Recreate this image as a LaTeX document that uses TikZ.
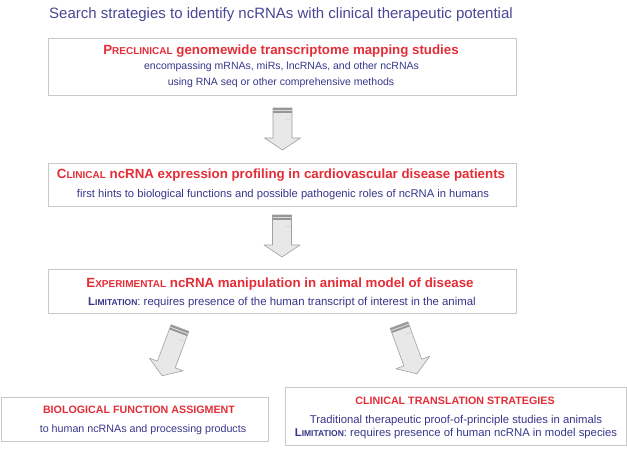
\documentclass[tikz,border=0pt]{standalone}
\usepackage{fontspec}
\setmainfont{Liberation Sans}
\definecolor{tred}{RGB}{228,45,55}
\definecolor{tblue}{RGB}{55,55,140}
\definecolor{ttitle}{RGB}{72,72,150}
\definecolor{boxgray}{RGB}{200,200,200}
\definecolor{arrfill}{RGB}{232,232,232}
\definecolor{arredge}{RGB}{160,160,160}
\definecolor{arrband}{RGB}{150,150,150}
\newcommand\mysc[3]{#2{\fontsize{#1pt}{#1pt}\selectfont#3}}
\tikzset{
  box/.style={draw=boxgray, line width=0.8pt, fill=white, inner sep=0pt},
  redtitle/.style={text=tred, font=\bfseries\fontsize{13.3}{15}\selectfont, inner sep=0pt},
  redsmall/.style={text=tred, font=\bfseries\fontsize{10.7}{12}\selectfont, inner sep=0pt},
  bluetext/.style={text=tblue, font=\fontsize{#1}{12}\selectfont, inner sep=0pt},
  bluetext/.default=11,
  pics/blockarrow/.style={code={
    \path[fill=arrfill, draw=arredge, line width=0.6pt, line join=round]
      (0,-9.5) -- (#1-12,-9.5) -- (#1-12,-18) -- (#1,0) -- (#1-12,18) -- (#1-12,9.5) -- (0,9.5) -- cycle;
    \fill[arrband] (0.3,-9.2) rectangle (5,9.2);
    \draw[gray!30, line width=1pt] (2.6,-9.2) -- (2.6,9.2);
    \draw[white!70!gray, line width=1pt] (11,-9.2) -- (11,-3);
  }}
}
\begin{document}
\begin{tikzpicture}[x=1pt, y=-1pt]
\useasboundingbox[fill=white] (0,0) rectangle (627,451);

\node[text=ttitle, font=\fontsize{15}{17}\selectfont, inner sep=0pt] (title) at (281,15)
  {Search strategies to identify ncRNAs with clinical therapeutic potential};

% box 1
\node[box, minimum width=468, minimum height=57] (b1) at (282,66.5) {};
\node[redtitle] (b1t) at (281,51) {\mysc{10}{P}{RECLINICAL} genomewide transcriptome mapping studies};
\node[bluetext=10.5] (b1a) at (281.5,67) {encompassing mRNAs, miRs, lncRNAs, and other ncRNAs};
\node[bluetext=10.5] (b1b) at (281,83) {using RNA seq or other comprehensive methods};

% box 2
\node[box, minimum width=468, minimum height=43] (b2) at (282,184.5) {};
\node[redtitle] (b2t) at (281,175) {\mysc{10}{C}{LINICAL} ncRNA expression profiling in cardiovascular disease patients};
\node[bluetext=11.2] (b2a) at (283,195) {first hints to biological functions and possible pathogenic roles of ncRNA in humans};

% box 3
\node[box, minimum width=468, minimum height=44] (b3) at (282,291) {};
\node[redtitle] (b3t) at (280,284) {\mysc{10}{E}{XPERIMENTAL} ncRNA manipulation in animal model of disease};
\node[bluetext=11.4] (b3a) at (282,303) {\textbf{\mysc{8.5}{L}{IMITATION}}: requires presence of the human transcript of interest in the animal};

% bottom boxes
\node[box, minimum width=267, minimum height=44] (bl) at (134.5,419) {};
\node[redsmall] (blt) at (139,410) {BIOLOGICAL FUNCTION ASSIGMENT};
\node[bluetext=10.7] (bla) at (143,430) {to human ncRNAs and processing products};

\node[box, minimum width=341, minimum height=58] (br) at (456,416) {};
\node[redsmall] (brt) at (455,401) {CLINICAL TRANSLATION STRATEGIES};
\node[bluetext=11.3] (bra) at (456,421) {Traditional therapeutic proof-of-principle studies in animals};
\node[bluetext=11.3] (brb) at (456,434) {\textbf{\mysc{8.5}{L}{IMITATION}}: requires presence of human ncRNA in model species};

% arrows
\pic[rotate=-90] (a1) at (282.5,108) {blockarrow={42}};
\pic[rotate=-90] (a2) at (282,215) {blockarrow={42}};
\pic[rotate=-110.6] (a3) at (180,328) {blockarrow={51}};
\pic[rotate=-69.8] (a4) at (399,325) {blockarrow={52}};
\end{tikzpicture}
\end{document}
